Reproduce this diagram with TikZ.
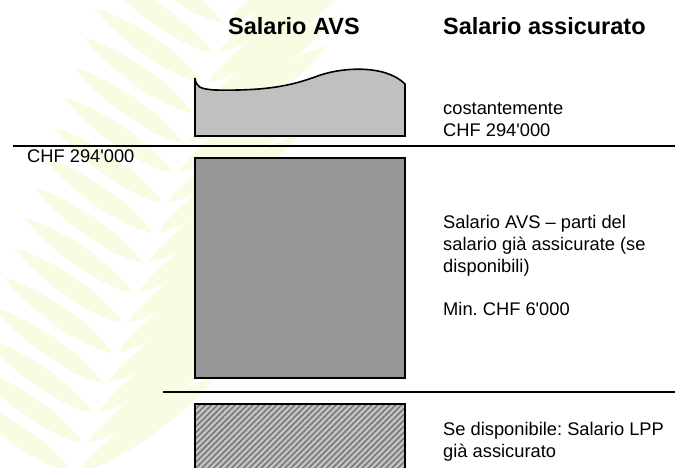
\documentclass[tikz,border=0pt]{standalone}
\usepackage{fontspec}
\setmainfont{Liberation Sans}[Ligatures=TeXOff]
\frenchspacing
\usetikzlibrary{patterns.meta}

\definecolor{fern}{RGB}{249,252,226}
\definecolor{barlight}{RGB}{192,192,192}
\definecolor{bardark}{RGB}{150,150,150}
\definecolor{hatchlight}{RGB}{196,196,196}
\definecolor{hatchdark}{RGB}{120,120,120}

\begin{document}
\begin{tikzpicture}[x=1pt, y=-1pt,
    bar/.style={draw=black, line width=1.6pt},
    rule/.style={draw=black, line width=1.5pt},
    head/.style={anchor=base west, inner sep=0pt, font=\fontsize{23.5}{28}\selectfont\bfseries},
    note/.style={anchor=base west, inner sep=0pt, align=left, font=\fontsize{18.3}{22}\selectfont},
    leaf/.style={fill=fern}]
    \def\xl{195} % left edge of the bars
    \def\xr{405} % right edge of the bars
    \def\xt{443} % left edge of the notes

    \clip (0,0) rectangle (675,468);
    \fill[white] (0,0) rectangle (675,468);

    % Fern in the background
    \foreach \t in {0,1,...,16} {
        \pgfmathsetmacro{\px}{75+\t*10}
        \pgfmathsetmacro{\py}{475-\t*30}
        \fill[leaf, shift={(\px,\py)}, rotate=35]
            (4,0) .. controls (40,16) and (130,14) .. (175,0) .. controls (130,-14) and (40,-16) .. (4,0);
        \fill[leaf, shift={(\px,\py)}, rotate=145]
            (4,0) .. controls (35,14) and (100,12) .. (135,0) .. controls (100,-12) and (35,-14) .. (4,0);
    }

    % Column heads
    \node[head] (avs) at (228,35) {Salario AVS};
    \node[head] (ass) at (\xt,35) {Salario assicurato};

    % Top bar with wavy upper edge (notes are placed by their last line)
    \filldraw[bar, fill=barlight] (\xl,136) -- (\xl,78)
        .. controls (196,87) and (200,89) .. (215,90)
        .. controls (265,91) and (290,86) .. (315,77)
        .. controls (340,67) and (385,64) .. (\xr,84)
        -- (\xr,136) -- cycle;
    \node[note] (cost) at (\xt,137) {costantemente\\CHF 294'000};

    % Upper limit
    \draw[rule] (13,146) -- (675,146);
    \node[note] (lim) at (27,163) {CHF 294'000};

    % Middle bar
    \filldraw[bar, fill=bardark] (\xl,158) rectangle (\xr,378);
    \node[note] (part) at (\xt,272) {Salario AVS – parti del\\salario già assicurate (se\\disponibili)};
    \node[note] (min) at (\xt,315) {Min. CHF 6'000};

    % Lower limit
    \draw[rule] (163,392) -- (675,392);

    % Lower bar, hatched
    \fill[hatchlight] (\xl,404) rectangle (\xr,480);
    \fill[pattern={Lines[angle=45, distance=4.2pt, line width=1.6pt]}, pattern color=hatchdark]
        (\xl,404) rectangle (\xr,480);
    \draw[bar] (\xl,404) rectangle (\xr,480);
    \node[note] (lpp) at (\xt,457) {Se disponibile: Salario LPP\\già assicurato};
\end{tikzpicture}
\end{document}
